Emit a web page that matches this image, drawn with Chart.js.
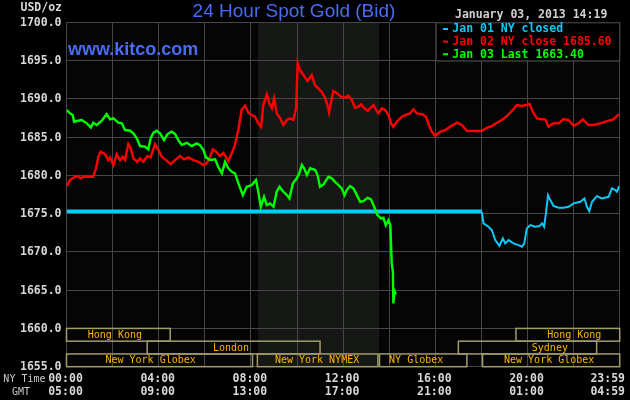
<!DOCTYPE html>
<html>
<head>
<meta charset="utf-8">
<script src="https://cdn.jsdelivr.net/npm/chart.js@4.4.1/dist/chart.umd.min.js"></script>
<style>
  html, body { margin: 0; padding: 0; background: #000; }
  canvas { display: block; }
</style>
</head>
<body>
<canvas id="c" width="630" height="400"></canvas>
<script>
// ---------------- DATA ----------------
const yTicks = [1655, 1660, 1665, 1670, 1675, 1680, 1685, 1690, 1695, 1700];
const tickHours = [0, 4, 8, 12, 16, 20, 24];
const nyLabels  = ['00:00', '04:00', '08:00', '12:00', '16:00', '20:00', '23:59'];
const gmtLabels = ['05:00', '09:00', '13:00', '17:00', '21:00', '01:00', '04:59'];

const legendLabels = ['Jan 01 NY closed', 'Jan 02 NY close 1685.60', 'Jan 03 Last 1663.40'];
const dateLabel = 'January 03, 2013 14:19';

// Jan 01 (flat, NY closed) then evening trade
const flatTimes  = [0, 18.02];
const flatPrices = [1675.3, 1675.3];
const cyanTimes  = [18.02, 18.09, 18.31, 18.45, 18.60, 18.78, 18.93, 19.03, 19.18, 19.39, 19.61, 19.76, 19.86, 19.97, 20.12, 20.33, 20.52, 20.63, 20.72, 20.80, 20.89, 20.99, 21.13, 21.35, 21.56, 21.78, 22.00, 22.29, 22.47, 22.58, 22.68, 22.80, 23.01, 23.23, 23.52, 23.66, 23.81, 23.88, 23.98];
const cyanPrices = [1675.24, 1673.73, 1673.28, 1672.86, 1671.55, 1670.80, 1671.76, 1671.11, 1671.54, 1671.11, 1670.89, 1670.67, 1671.11, 1673.07, 1673.50, 1673.28, 1673.37, 1673.73, 1673.28, 1675.03, 1677.42, 1676.77, 1675.99, 1675.76, 1675.76, 1675.90, 1676.34, 1676.55, 1676.99, 1675.90, 1675.33, 1676.55, 1677.29, 1676.99, 1677.20, 1678.30, 1678.08, 1677.86, 1678.60];

// Jan 02
const redTimes = [0.01, 0.15, 0.33, 0.51, 0.62, 0.73, 0.95, 1.16, 1.28, 1.38, 1.48, 1.67, 1.81, 1.89, 2.03, 2.18, 2.32, 2.44, 2.54, 2.68, 2.79, 2.90, 3.07, 3.19, 3.33, 3.51, 3.65, 3.84, 4.03, 4.13, 4.32, 4.52, 4.71, 4.93, 5.10, 5.29, 5.50, 5.72, 5.94, 6.08, 6.23, 6.35, 6.49, 6.66, 6.81, 7.02, 7.17, 7.31, 7.46, 7.60, 7.75, 7.89, 8.04, 8.18, 8.32, 8.44, 8.54, 8.69, 8.80, 8.91, 9.01, 9.12, 9.27, 9.41, 9.56, 9.70, 9.84, 9.96, 10.03, 10.13, 10.28, 10.45, 10.54, 10.64, 10.79, 10.93, 11.08, 11.22, 11.32, 11.39, 11.48, 11.58, 11.73, 11.90, 12.09, 12.23, 12.38, 12.52, 12.67, 12.78, 12.93, 13.07, 13.17, 13.32, 13.43, 13.53, 13.68, 13.82, 13.97, 14.08, 14.18, 14.33, 14.55, 14.77, 14.91, 15.05, 15.20, 15.42, 15.60, 15.75, 15.85, 15.99, 16.21, 16.43, 16.64, 16.94, 17.15, 17.37, 17.66, 18.02, 18.24, 18.45, 18.67, 18.89, 19.11, 19.32, 19.54, 19.76, 19.94, 20.09, 20.23, 20.41, 20.63, 20.77, 20.91, 21.13, 21.35, 21.56, 21.78, 22.00, 22.21, 22.40, 22.65, 22.86, 23.16, 23.45, 23.73, 23.95];
const redPrices = [1678.60, 1679.39, 1679.74, 1679.91, 1679.61, 1679.82, 1679.82, 1679.82, 1680.92, 1682.43, 1683.09, 1682.78, 1682.00, 1682.35, 1681.35, 1682.78, 1682.00, 1682.43, 1682.00, 1684.09, 1683.53, 1682.22, 1681.78, 1682.22, 1681.78, 1682.52, 1682.35, 1684.09, 1683.09, 1682.43, 1682.00, 1681.48, 1682.00, 1682.52, 1682.09, 1682.35, 1682.00, 1681.78, 1681.35, 1681.57, 1682.43, 1683.40, 1683.09, 1682.52, 1682.95, 1681.87, 1682.88, 1684.00, 1686.00, 1688.60, 1689.10, 1688.20, 1687.88, 1687.66, 1686.80, 1686.35, 1689.19, 1690.59, 1689.41, 1688.76, 1690.07, 1688.10, 1687.45, 1686.58, 1687.23, 1687.45, 1687.23, 1688.76, 1694.64, 1693.76, 1693.11, 1692.33, 1692.68, 1693.11, 1691.71, 1691.37, 1690.85, 1690.14, 1689.19, 1688.24, 1689.62, 1691.02, 1690.72, 1690.27, 1690.14, 1690.41, 1689.84, 1688.84, 1688.97, 1689.28, 1688.76, 1688.41, 1688.76, 1689.19, 1688.54, 1688.10, 1688.76, 1688.54, 1687.88, 1686.80, 1686.35, 1687.01, 1687.66, 1687.97, 1688.10, 1688.63, 1688.10, 1688.01, 1687.66, 1686.35, 1685.70, 1685.14, 1685.70, 1685.92, 1686.35, 1686.88, 1686.58, 1685.83, 1685.79, 1685.83, 1686.22, 1686.44, 1686.88, 1687.23, 1687.75, 1688.41, 1689.19, 1689.06, 1689.19, 1689.32, 1688.31, 1687.45, 1687.32, 1687.32, 1686.35, 1686.80, 1686.80, 1687.36, 1687.23, 1686.48, 1686.80, 1687.32, 1686.58, 1686.58, 1686.80, 1687.10, 1687.32, 1687.97];

// Jan 03
const greenTimes = [0.01, 0.15, 0.27, 0.33, 0.51, 0.66, 0.88, 1.06, 1.16, 1.31, 1.53, 1.74, 1.89, 2.03, 2.25, 2.40, 2.54, 2.76, 2.90, 3.05, 3.19, 3.41, 3.55, 3.65, 3.77, 3.91, 4.06, 4.23, 4.38, 4.57, 4.71, 4.85, 5.00, 5.22, 5.43, 5.65, 5.79, 5.94, 6.05, 6.23, 6.45, 6.59, 6.74, 6.88, 7.02, 7.17, 7.31, 7.46, 7.65, 7.82, 8.04, 8.22, 8.32, 8.43, 8.57, 8.69, 8.83, 8.98, 9.12, 9.24, 9.38, 9.56, 9.67, 9.82, 9.99, 10.10, 10.21, 10.31, 10.43, 10.57, 10.79, 10.89, 11.00, 11.15, 11.36, 11.51, 11.65, 11.80, 11.94, 12.06, 12.16, 12.30, 12.45, 12.60, 12.74, 12.88, 13.06, 13.20, 13.35, 13.49, 13.64, 13.75, 13.85, 13.97, 14.05, 14.11, 14.16, 14.18, 14.23, 14.29];
const greenPrices = [1688.54, 1688.10, 1687.88, 1687.01, 1687.14, 1687.23, 1686.80, 1686.27, 1686.88, 1686.58, 1687.14, 1688.01, 1687.32, 1687.45, 1686.88, 1686.80, 1685.92, 1685.83, 1685.49, 1684.84, 1683.83, 1683.74, 1683.40, 1684.84, 1685.57, 1685.83, 1685.49, 1684.61, 1685.40, 1685.70, 1685.40, 1684.61, 1683.96, 1684.26, 1683.83, 1684.18, 1683.96, 1683.31, 1682.35, 1682.00, 1682.09, 1681.05, 1680.26, 1681.78, 1680.92, 1680.47, 1680.26, 1678.95, 1677.42, 1678.51, 1678.73, 1679.39, 1677.86, 1675.90, 1677.20, 1676.12, 1676.34, 1675.90, 1677.86, 1678.51, 1677.95, 1677.42, 1676.99, 1678.95, 1679.61, 1680.26, 1681.35, 1680.92, 1680.04, 1680.92, 1680.69, 1680.04, 1678.51, 1678.82, 1679.82, 1679.61, 1679.16, 1678.73, 1678.30, 1677.42, 1678.08, 1678.60, 1678.30, 1677.42, 1676.55, 1676.64, 1677.07, 1676.90, 1675.90, 1674.81, 1674.38, 1674.46, 1673.50, 1674.16, 1673.50, 1668.50, 1667.40, 1663.27, 1664.88, 1664.44];

// Market sessions (hours, NY time)
const sessionNames = ['Hong Kong', 'Hong Kong', 'London', 'Sydney', 'New York Globex', 'New York NYMEX', 'NY Globex', 'New York Globex'];
const sessionStart = [0, 19.5, 3.5, 17.0, 0, 8.28, 13.58, 18.05];
const sessionEnd   = [4.5, 24, 11.0, 23.0, 8.07, 13.51, 17.37, 24];
const sessionRow   = [0, 0, 1, 1, 2, 2, 2, 2];
const shadeHours   = [8.31, 13.56];

// ---------------- LAYOUT / STYLE ----------------
const LABEL_AT = [2.1, 22.03, 7.14, 20.97, 3.65, 10.87, 15.17, 20.94]; // label centre (hours)
const MONO = '"DejaVu Sans Mono", monospace';
const GRID = '#464646';

function pts(t, p) { return t.map((v, i) => ({ x: v, y: p[i] })); }

const deco = {
  id: 'deco',
  beforeDraw(chart) {
    const { ctx, chartArea: a, scales: { x } } = chart;
    ctx.save();
    ctx.fillStyle = '#000';
    ctx.fillRect(0, 0, chart.width, chart.height);
    ctx.fillStyle = '#050505';
    ctx.fillRect(a.left, a.top, a.right - a.left, a.bottom - a.top);
    const x1 = x.getPixelForValue(shadeHours[0]), x2 = x.getPixelForValue(shadeHours[1]);
    ctx.fillStyle = '#151815';
    ctx.fillRect(x1, a.top, x2 - x1, a.bottom - a.top);
    ctx.restore();
  },
  beforeDatasetsDraw(chart) {
    const { ctx, chartArea: a, scales: { x, y } } = chart;
    const top = y.getPixelForValue(1660), bot = a.bottom;
    const rh = (bot - top) / 3;
    ctx.save();
    ctx.strokeStyle = '#a09c6c';
    ctx.lineWidth = 1.5;
    ctx.font = '10px ' + MONO;
    ctx.textAlign = 'center';
    ctx.textBaseline = 'middle';
    sessionNames.forEach((n, i) => {
      const x1 = x.getPixelForValue(sessionStart[i]);
      const x2 = x.getPixelForValue(sessionEnd[i]);
      const y1 = top + rh * sessionRow[i];
      ctx.strokeRect(x1, y1, x2 - x1, rh);
    });
    ctx.fillStyle = '#ffb400';
    sessionNames.forEach((n, i) => {
      const y1 = top + rh * sessionRow[i];
      ctx.fillText(n, x.getPixelForValue(LABEL_AT[i]), y1 + rh / 2 + 0.5);
    });
    ctx.restore();
  },
  afterDraw(chart) {
    const { ctx, chartArea: a, scales: { x, y } } = chart;
    ctx.save();
    // y tick labels
    ctx.fillStyle = '#d8d8d8';
    ctx.font = 'bold 11.5px ' + MONO;
    ctx.textAlign = 'right';
    ctx.textBaseline = 'middle';
    yTicks.forEach(v => ctx.fillText(v.toFixed(1), 61.5, y.getPixelForValue(v) + 0.5));
    ctx.fillText('USD/oz', 62, 8);
    // x tick labels
    ctx.textAlign = 'center';
    tickHours.forEach((h, i) => {
      let px = x.getPixelForValue(h) - 1;
      if (i === tickHours.length - 1) { ctx.textAlign = 'right'; px = 625; }
      ctx.fillText(nyLabels[i], px, 379.5);
      ctx.fillText(gmtLabels[i], px, 392.5);
    });
    ctx.font = '10px ' + MONO;
    ctx.fillStyle = '#c8c8c8';
    ctx.textAlign = 'right';
    ctx.fillText('NY Time', 45.5, 379.5);
    ctx.textAlign = 'center';
    ctx.fillText('GMT', 21, 392.5);
    // legend box
    const lx = 435.7, ly = a.top, lw = 619.3 - 435.7, lh = y.getPixelForValue(1695) - a.top;
    ctx.fillStyle = '#000';
    ctx.fillRect(lx, ly, lw, lh);
    ctx.strokeStyle = '#4a4a4a';
    ctx.lineWidth = 1;
    ctx.strokeRect(lx + 0.5, ly + 0.5, lw, lh);
    const cols = ['#10c8f8', '#ff0000', '#00ff00'];
    ctx.font = 'bold 11.5px ' + MONO;
    ctx.textAlign = 'left';
    legendLabels.forEach((t, i) => {
      const yy = 29 + i * 12.6;
      ctx.fillStyle = cols[i];
      ctx.fillRect(443, yy - 1, 5, 2);
      ctx.fillText(t, 452.3, yy + 0.5);
    });
    // date
    ctx.fillStyle = '#d0d0d0';
    ctx.fillText(dateLabel, 455, 15);
    // title
    ctx.fillStyle = '#4a6cf4';
    ctx.font = '19px "Liberation Sans", Arial, sans-serif';
    ctx.textAlign = 'center';
    ctx.textBaseline = 'alphabetic';
    ctx.fillText('24 Hour Spot Gold (Bid)', 294, 17);
    ctx.font = 'bold 18px "Liberation Sans", Arial, sans-serif';
    ctx.textAlign = 'left';
    ctx.fillText('www.kitco.com', 68, 55);
    ctx.restore();
  }
};

const ds = (label, t, p, color, w) => ({
  label, data: pts(t, p), borderColor: color, borderWidth: w,
  pointRadius: 0, tension: 0, fill: false, borderJoinStyle: 'miter'
});

new Chart(document.getElementById('c'), {
  type: 'line',
  data: {
    datasets: [
      ds('Jan 03', greenTimes, greenPrices, '#00ff00', 2.4),
      ds('Jan 02', redTimes, redPrices, '#ff0000', 2.4),
      ds('Jan 01 evening', cyanTimes, cyanPrices, '#10c8f8', 2),
      ds('Jan 01 closed', flatTimes, flatPrices, '#10c8f8', 3.8)
    ]
  },
  options: {
    responsive: false,
    animation: false,
    layout: { padding: { left: 66.5, right: 10.3, top: 22.3, bottom: 33.3 } },
    plugins: { legend: { display: false }, tooltip: { enabled: false }, title: { display: false } },
    scales: {
      x: {
        type: 'linear', min: 0, max: 24,
        ticks: { display: false, stepSize: 2 },
        grid: { color: GRID, lineWidth: 1, drawTicks: false },
        border: { display: true, color: GRID }
      },
      y: {
        min: 1655, max: 1700,
        ticks: { display: false, stepSize: 5 },
        grid: { color: GRID, lineWidth: 1, drawTicks: false },
        border: { display: true, color: GRID }
      }
    }
  },
  plugins: [deco]
});
</script>
</body>
</html>
